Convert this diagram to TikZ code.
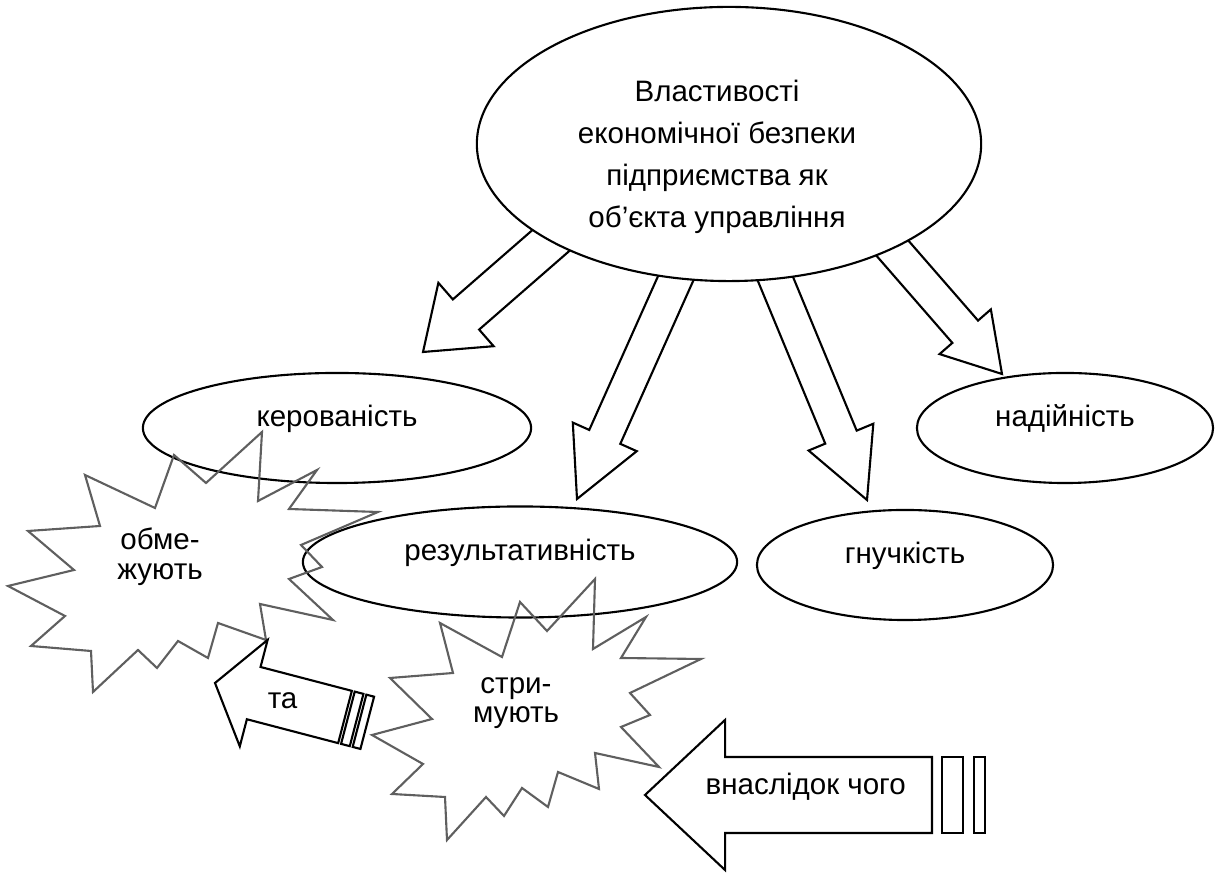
\documentclass[tikz,border=0pt]{standalone}
\usepackage{fontspec}
\setmainfont{Liberation Sans}
\usetikzlibrary{shapes.geometric,calc}

\definecolor{burstgray}{RGB}{95,95,95}

% block arrow: name, tail, tip, half shaft, half head, head length
\newcommand{\blockarrow}[6]{%
  \coordinate (#1_neck) at ($(#3)!#6!(#2)$);
  \draw[bigarrow] ($(#2)!#4!90:(#3)$) -- ($(#1_neck)!#4!90:(#3)$)
    -- ($(#1_neck)!#5!90:(#3)$) -- (#3)
    -- ($(#1_neck)!#5!-90:(#3)$) -- ($(#1_neck)!#4!-90:(#3)$)
    -- ($(#2)!#4!-90:(#3)$) -- cycle;
}
% stripe behind the tail: name, tail, tip, from, to, half width
\newcommand{\tailstripe}[6]{%
  \coordinate (#1_p) at ($(#2)!-#4!(#3)$);
  \coordinate (#1_q) at ($(#2)!-#5!(#3)$);
  \draw[bigarrow] ($(#1_p)!#6!90:(#3)$) -- ($(#1_q)!#6!90:(#3)$)
    -- ($(#1_q)!#6!-90:(#3)$) -- ($(#1_p)!#6!-90:(#3)$) -- cycle;
}

\begin{document}
\begin{tikzpicture}[x=0.01cm, y=-0.01cm,
    every node/.style={font=\fontsize{8.4}{11.9}\selectfont},
    ovalnode/.style={draw, ellipse, line width=0.6pt, inner sep=0pt,
      text height=6pt, text depth=7pt},
    bigarrow/.style={draw, fill=white, line width=0.6pt, line join=miter},
    burstline/.style={draw=burstgray, line width=0.6pt, line join=miter},
    bursttext/.style={align=center, font=\fontsize{8.4}{8.4}\selectfont}]

    \useasboundingbox (0,0) rectangle (1215,874);

    % arrows out of the top ellipse
    \coordinate (a1_tail) at (571,223);
    \coordinate (a1_tip) at (423,352);
    \coordinate (a2_tail) at (683,262);
    \coordinate (a2_tip) at (577,499);
    \coordinate (a3_tail) at (768,261);
    \coordinate (a3_tip) at (867,500);
    \coordinate (a4_tail) at (867,219);
    \coordinate (a4_tip) at (1002,374);

    \blockarrow{a1}{a1_tail}{a1_tip}{0.20cm}{0.42cm}{0.57cm}
    \blockarrow{a2}{a2_tail}{a2_tip}{0.17cm}{0.35cm}{0.68cm}
    \blockarrow{a3}{a3_tail}{a3_tip}{0.17cm}{0.35cm}{0.68cm}
    \blockarrow{a4}{a4_tail}{a4_tip}{0.17cm}{0.34cm}{0.56cm}

    \node[ovalnode, fill=white, minimum width=5.04cm, minimum height=2.74cm] (prop) at (729,144) {};
    \node[align=center] (prop_text) at (717,157)
      {Властивості\\економічної безпеки\\підприємства як\\об’єкта управління};

    \node[ovalnode, minimum width=3.88cm, minimum height=1.10cm] (keruv) at (337,428) {керованість};
    \node[ovalnode, minimum width=4.34cm, minimum height=1.11cm] (rezult) at (520,562) {результативність};
    \node[ovalnode, minimum width=2.96cm, minimum height=1.10cm] (hnuch) at (905,565) {гнучкість};
    \node[ovalnode, minimum width=2.96cm, minimum height=1.10cm] (nadiin) at (1065,428) {надійність};

    % bursts
    \draw[burstline] (85,475) -- (155,508) -- (174,455) -- (206,483) -- (262,432)
      -- (258,501) -- (317,470) -- (289,509) -- (378,512) -- (301,545) -- (322,567)
      -- (289,579) -- (333,620) -- (260,604) -- (266,640) -- (218,623) -- (208,658)
      -- (178,641) -- (157,668) -- (138,650) -- (93,692) -- (91,651) -- (31,646)
      -- (65,616) -- (8,586) -- (74,570) -- (28,531) -- (100,526) -- cycle;
    \node[bursttext] (obmezh) at (160,557) {обме-\\жують};

    \draw[burstline] (440,623) -- (502,657) -- (520,602) -- (547,631) -- (595,579)
      -- (593,649) -- (646,617) -- (621,658) -- (701,659) -- (630,693) -- (650,715)
      -- (621,727) -- (659,767) -- (595,753) -- (599,789) -- (558,772) -- (548,807)
      -- (522,788) -- (504,816) -- (486,797) -- (447,840) -- (445,797) -- (392,794)
      -- (423,764) -- (372,735) -- (432,719) -- (390,678) -- (453,673) -- cycle;
    \node[bursttext] (strym) at (516,703) {стри-\\мують};

    % striped arrows
    \coordinate (ta_tail) at (345,717);
    \coordinate (ta_tip) at (215,683);
    \blockarrow{ta}{ta_tail}{ta_tip}{0.27cm}{0.55cm}{0.40cm}
    \tailstripe{ta_s1}{ta_tail}{ta_tip}{0.03cm}{0.12cm}{0.27cm}
    \tailstripe{ta_s2}{ta_tail}{ta_tip}{0.15cm}{0.23cm}{0.27cm}
    \node (ta_text) at ($(ta_tip)!0.52!(ta_tail)$) {та};

    \coordinate (vn_tail) at (932,795);
    \coordinate (vn_tip) at (645,795);
    \blockarrow{vn}{vn_tail}{vn_tip}{0.38cm}{0.75cm}{0.80cm}
    \tailstripe{vn_s1}{vn_tail}{vn_tip}{0.10cm}{0.31cm}{0.38cm}
    \tailstripe{vn_s2}{vn_tail}{vn_tip}{0.42cm}{0.53cm}{0.38cm}
    \node (vn_text) at ($(vn_tip)!0.56!(vn_tail)+(0,-8)$) {внаслідок чого};

\end{tikzpicture}
\end{document}
